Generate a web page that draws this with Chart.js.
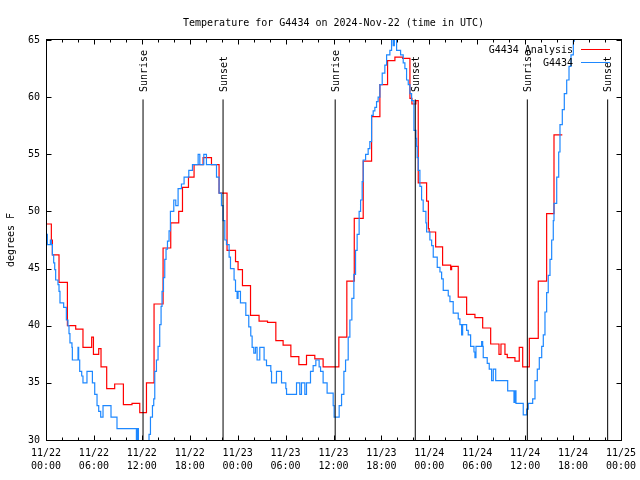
<!DOCTYPE html>
<html>
<head>
<meta charset="utf-8">
<title>Temperature for G4434</title>
<script src="https://cdn.jsdelivr.net/npm/chart.js@4.4.1/dist/chart.umd.min.js"></script>
<style>
  html, body { margin: 0; padding: 0; background: #fff; }
  canvas { display: block; }
</style>
</head>
<body>
<canvas id="chart" width="640" height="480"></canvas>
<script>
// hours since 2024-11-22 00:00 UTC

const analysisHours = [0, 0.67, 0.80, 1.63, 2.68, 3.72, 4.63, 5.72, 5.94, 6.60, 6.89, 7.60, 8.60, 9.69,
  10.77, 11.74, 12.58, 13.53, 14.66, 15.62, 16.62, 17.09, 17.84, 18.54, 19.67, 20.72, 21.67, 22.67,
  23.73, 24.05, 24.60, 25.61, 26.68, 27.74, 28.78, 29.69, 30.66, 31.66, 32.62, 33.66, 34.70, 36.67,
  37.67, 38.60, 39.72, 40.77, 41.81, 42.77, 43.69, 44.65, 45.57, 45.82, 46.32, 46.61, 47.66, 47.88,
  47.98, 48.79, 49.66, 50.67, 50.79, 51.62, 52.67, 53.71, 54.68, 55.68, 56.72, 56.97, 57.47, 57.76,
  58.72, 59.26, 59.69, 60.52, 61.64, 62.69, 63.61, 64.65];
const analysisTemps = [48.9, 47.5, 46.2, 43.8, 40.0, 39.7, 38.1, 39.0, 37.5, 38.0, 36.4, 34.5, 34.9, 33.1,
  33.2, 32.4, 35.0, 41.9, 46.8, 49.0, 50.0, 52.1, 53.0, 54.1, 54.7, 54.1, 51.6, 46.6,
  45.6, 44.9, 43.5, 40.9, 40.4, 40.3, 38.7, 38.3, 37.3, 36.6, 37.4, 37.1, 36.4, 39.0,
  43.9, 49.4, 54.4, 58.3, 61.1, 63.2, 63.5, 63.4, 59.9, 59.4, 59.7, 52.5, 50.9, 48.5,
  48.2, 46.9, 45.3, 44.9, 45.2, 42.5, 41.0, 40.7, 39.8, 38.4, 37.5, 38.4, 37.5, 37.2,
  36.9, 38.1, 36.4, 38.9, 43.9, 49.8, 56.7, 56.7];

const stationHours = [0.00, 0.17, 0.55, 0.67, 0.80, 0.96, 1.09, 1.21, 1.50, 1.63, 1.75, 2.21, 2.55, 2.75,
  2.88, 3.00, 3.25, 3.30, 4.01, 4.09, 4.22, 4.47, 4.63, 5.13, 5.81, 6.10, 6.39, 6.60, 6.85, 7.14, 8.14,
  8.89, 11.32, 11.45, 11.57, 12.90, 13.08, 13.33, 13.49, 13.62, 13.83, 14.03, 14.24, 14.41, 14.53,
  14.71, 14.87, 15.03, 15.21, 15.41, 15.58, 16.00, 16.25, 16.54, 16.96, 17.29, 17.88, 18.34, 19.05,
  19.26, 19.76, 20.09, 21.35, 21.67, 21.97, 22.17, 22.39, 22.60, 22.93, 23.10, 23.55, 23.73, 23.93,
  24.05, 24.35, 25.02, 25.39, 25.64, 25.81, 26.02, 26.23, 26.43, 26.77, 27.31, 27.61, 28.15, 28.24,
  28.86, 29.49, 30.03, 30.12, 31.37, 31.78, 31.99, 32.41, 32.62, 33.12, 33.45, 33.79, 34.20, 34.38,
  34.70, 35.20, 35.96, 36.08, 36.71, 37.01, 37.30, 37.51, 37.84, 38.05, 38.30, 38.55, 38.76, 38.96,
  39.21, 39.39, 39.59, 39.72, 40.02, 40.34, 40.55, 40.77, 40.97, 41.18, 41.39, 41.59, 41.81, 42.10,
  42.43, 42.65, 43.06, 43.27, 43.48, 43.62, 43.90, 44.40, 44.73, 44.94, 45.15, 45.36, 45.57, 45.78,
  46.07, 46.32, 46.41, 46.48, 46.61, 46.82, 47.03, 47.23, 47.57, 47.66, 48.07, 48.29, 48.49, 48.99,
  49.33, 49.54, 49.74, 50.37, 50.58, 50.99, 51.62, 51.83, 52.04, 52.17, 52.67, 52.87, 53.17, 53.59,
  53.71, 53.84, 54.55, 54.68, 54.75, 55.25, 55.50, 55.80, 56.01, 56.31, 57.81, 58.60, 58.72, 58.85,
  59.76, 60.19, 60.39, 60.94, 61.23, 61.52, 61.77, 62.07, 62.27, 62.48, 62.69, 62.89, 63.11, 63.32,
  63.52, 63.61, 63.95, 64.20, 64.36, 64.65, 64.90, 65.20, 65.49, 65.74, 66.03, 66.15, 66.50];
const stationTemps = [48.0, 47.1, 47.5, 47.1, 46.2, 45.5, 44.9, 44.0, 43.6, 43.0, 42.0, 41.6, 40.5, 40.0,
  39.3, 38.5, 38.1, 37.0, 38.1, 37.0, 36.0, 35.6, 35.0, 36.0, 35.0, 34.0, 33.0, 32.5, 32.0, 33.0, 32.0,
  31.0, 29.5, 31.0, 29.0, 30.5, 32.0, 33.0, 33.6, 36.0, 37.0, 38.2, 40.1, 41.7, 43.0,
  44.2, 45.8, 46.7, 47.4, 48.3, 50.0, 51.0, 50.5, 52.0, 52.4, 53.0, 53.6, 54.1, 55.0,
  54.1, 55.0, 54.1, 53.0, 51.6, 50.5, 49.2, 47.5, 47.1, 46.0, 45.0, 44.0, 43.0, 42.4,
  43.0, 42.0, 40.9, 39.9, 39.1, 38.1, 37.6, 38.1, 37.0, 38.1, 37.0, 36.5, 36.0, 35.0,
  36.0, 35.0, 34.5, 34.0, 35.0, 34.0, 35.0, 34.0, 35.0, 36.0, 36.5, 37.0, 36.4, 36.0,
  35.0, 34.1, 33.0, 32.0, 33.0, 34.0, 36.0, 37.0, 39.0, 40.5, 42.4, 44.5, 46.6, 48.0,
  50.0, 51.0, 52.6, 54.5, 55.0, 55.5, 56.1, 58.4, 58.8, 59.1, 59.6, 60.0, 61.1, 62.1,
  62.8, 63.7, 64.1, 66.0, 64.5, 66.0, 64.1, 63.7, 63.0, 62.5, 61.5, 61.1, 60.3, 59.7,
  57.1, 56.4, 55.7, 54.7, 53.6, 52.2, 51.0, 50.0, 49.0, 48.2, 47.5, 47.0, 46.0, 45.1,
  44.7, 44.1, 43.1, 42.6, 42.1, 41.1, 40.6, 40.1, 39.2, 40.1, 39.6, 39.2, 38.2, 37.7,
  37.2, 38.2, 38.6, 38.2, 37.2, 36.7, 36.2, 35.2, 36.2, 35.2, 34.3, 33.3, 34.3, 33.2,
  32.2, 32.7, 33.2, 33.6, 35.2, 36.2, 37.2, 38.2, 39.2, 41.2, 42.9, 44.4, 45.8, 47.5,
  49.2, 50.7, 53.0, 55.2, 57.6, 58.9, 60.3, 61.5, 62.7, 63.7, 64.9, 66.0, 67.0];

const sunHours = [12.15, 22.17, 36.21, 46.24, 60.27, 70.33];
const sunEvents = ['Sunrise', 'Sunset', 'Sunrise', 'Sunset', 'Sunrise', 'Sunset'];
const sunLineTop = 59.8;

const dayLabels = ['11/22', '11/23', '11/24', '11/25'];
const yTicks = [30, 35, 40, 45, 50, 55, 60, 65];

const FONT = 'DejaVu Sans Mono';
const RED = '#ff0000';
const BLUE = '#1e88ff';

function toPoints(xs, ys) {
  return xs.map((x, i) => ({ x: x, y: ys[i] }));
}

function tickLabel(h) {
  const hh = (h % 24).toString().padStart(2, '0');
  return [dayLabels[Math.floor(h / 24)], hh + ':00'];
}

// frame, inward tics, title, key and sun labels like gnuplot does
const gnuplotDecor = {
  id: 'gnuplotDecor',
  afterDraw(chart) {
    const { ctx, chartArea: a, scales: { x, y } } = chart;
    const L = Math.round(a.left) + 0.5, R = Math.round(a.right) + 0.5;
    const T = Math.round(a.top) - 0.5, B = Math.round(a.bottom) + 0.5;

    ctx.save();
    ctx.strokeStyle = '#000';
    ctx.lineWidth = 1;
    ctx.strokeRect(L, T, R - L, B - T);

    ctx.beginPath();
    for (let h = 0; h <= 72; h += 2) {
      const px = Math.round(x.getPixelForValue(h)) + 0.5;
      const len = h % 6 === 0 ? 5 : 3;
      ctx.moveTo(px, B); ctx.lineTo(px, B - len);
      ctx.moveTo(px, T); ctx.lineTo(px, T + len);
    }
    yTicks.forEach(v => {
      const py = Math.round(y.getPixelForValue(v)) + 0.5;
      ctx.moveTo(L, py); ctx.lineTo(L + 5, py);
      ctx.moveTo(R, py); ctx.lineTo(R - 5, py);
    });
    ctx.stroke();

    ctx.fillStyle = '#000';
    ctx.font = '10px "' + FONT + '"';

    // title
    ctx.textAlign = 'center';
    ctx.textBaseline = 'alphabetic';
    ctx.fillText('Temperature for G4434 on 2024-Nov-22 (time in UTC)', (a.left + a.right) / 2, 26);

    // sun labels
    sunHours.forEach((h, i) => {
      ctx.save();
      ctx.translate(x.getPixelForValue(h) + 1, y.getPixelForValue(60.45));
      ctx.rotate(-Math.PI / 2);
      ctx.textAlign = 'left';
      ctx.textBaseline = 'middle';
      ctx.fillText(sunEvents[i], 0, 0);
      ctx.restore();
    });

    // key
    const keyRows = ['G4434 Analysis', 'G4434'].map(lbl => chart.data.datasets.find(d => d.label === lbl));
    keyRows.forEach((ds, i) => {
      const ty = a.top + 10 + i * 13;
      ctx.textAlign = 'right';
      ctx.textBaseline = 'middle';
      ctx.fillStyle = '#000';
      ctx.fillText(ds.label, a.right - 48, ty);
      ctx.strokeStyle = ds.borderColor;
      ctx.beginPath();
      ctx.moveTo(a.right - 40, Math.round(ty) - 0.5);
      ctx.lineTo(a.right - 11, Math.round(ty) - 0.5);
      ctx.stroke();
    });
    ctx.restore();
  }
};

const sunDatasets = sunHours.map(h => ({
  label: 'sun',
  data: [{ x: h, y: 30 }, { x: h, y: sunLineTop }],
  borderColor: '#000',
  borderWidth: 1,
  pointRadius: 0,
  order: 0
}));

new Chart(document.getElementById('chart'), {
  type: 'line',
  data: {
    datasets: [
      ...sunDatasets,
      {
        label: 'G4434',
        data: toPoints(stationHours, stationTemps),
        borderColor: BLUE,
        borderWidth: 1.2,
        stepped: true,
        pointRadius: 0,
        order: 1
      },
      {
        label: 'G4434 Analysis',
        data: toPoints(analysisHours, analysisTemps),
        borderColor: RED,
        borderWidth: 1.2,
        stepped: true,
        pointRadius: 0,
        order: 2
      }
    ]
  },
  options: {
    responsive: false,
    devicePixelRatio: 1,
    animation: false,
    layout: { padding: { top: 40, right: 19, bottom: 0, left: 0 } },
    plugins: {
      legend: { display: false },
      tooltip: { enabled: false },
      title: { display: false }
    },
    scales: {
      x: {
        type: 'linear',
        min: 0,
        max: 72,
        grid: { display: false, drawTicks: false },
        border: { display: false },
        ticks: {
          stepSize: 6,
          autoSkip: false,
          maxRotation: 0,
          padding: 7,
          color: '#000',
          font: { family: FONT, size: 10, lineHeight: 1.3 },
          callback: v => tickLabel(v)
        },
        afterFit: s => { s.height = 40; s.paddingLeft = 0; s.paddingRight = 0; }
      },
      y: {
        min: 30,
        max: 65,
        grid: { display: false, drawTicks: false },
        border: { display: false },
        ticks: {
          stepSize: 5,
          padding: 6,
          color: '#000',
          font: { family: FONT, size: 10 }
        },
        title: {
          display: true,
          text: 'degrees F',
          color: '#000',
          font: { family: FONT, size: 10 },
          padding: { top: 5, bottom: 0 }
        },
        afterFit: s => { s.width = 46; s.paddingTop = 0; s.paddingBottom = 0; }
      }
    }
  },
  plugins: [gnuplotDecor]
});
</script>
</body>
</html>
